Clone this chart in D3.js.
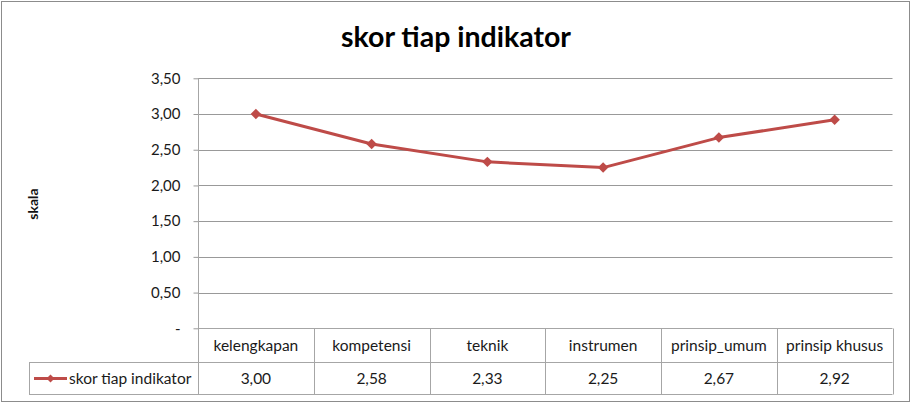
<!DOCTYPE html>
<html><head><meta charset="utf-8">
<script src="https://cdn.jsdelivr.net/npm/d3@7"></script>
<style>
html,body{margin:0;padding:0;background:#fff;}
svg{display:block;font-family:Lato, "Open Sans", sans-serif;}
</style></head>
<body>
<svg id="chart" width="916" height="404"></svg>
<script>
const categories = ["kelengkapan","kompetensi","teknik","instrumen","prinsip_umum","prinsip khusus"];
const values = [3.00, 2.58, 2.33, 2.25, 2.67, 2.92];
const yTicks = [0, 0.5, 1.0, 1.5, 2.0, 2.5, 3.0, 3.5];
const seriesName = "skor tiap indikator";
const title = "skor tiap indikator";
const yLabel = "skala";

(function(){
const svg = d3.select("#chart");
const pLeft = 198, pRight = 892.5, pTop = 78.3, pBottom = 328.3;
const rowH1 = 34, rowH2 = 32;
const legendLeft = 29;
const red = "#be4b48", grid = "#999", tableCol = "#a6a6a6";
const txt = "#1a1a1a";
const fmt = v => v === 0 ? "-" : d3.format(".2f")(v).replace(".", ",");

svg.append("rect").attr("x",1.5).attr("y",1.5).attr("width",908).attr("height",400)
  .attr("fill","#fff").attr("stroke","#8c8c8c").attr("stroke-width",1);

const x = d3.scaleBand().domain(categories).range([pLeft,pRight]).padding(0);
const y = d3.scaleLinear().domain([0,3.5]).range([pBottom,pTop]);

svg.append("g").selectAll("line").data(yTicks.filter(d=>d>0)).join("line")
  .attr("x1",pLeft).attr("x2",pRight).attr("y1",d=>Math.round(y(d))+0.5).attr("y2",d=>Math.round(y(d))+0.5)
  .attr("stroke",grid).attr("stroke-width",1);

const yAxis = d3.axisLeft(y).tickValues(yTicks).tickFormat(fmt).tickSize(5).tickPadding(13);
const gy = svg.append("g").attr("transform",`translate(${pLeft+0.5},0)`).call(yAxis);
gy.select(".domain").remove();
gy.selectAll(".tick line").attr("stroke",grid);
gy.selectAll(".tick text").attr("font-size",15).attr("fill",txt).attr("font-family","Lato, sans-serif");
svg.append("line").attr("x1",pLeft+0.5).attr("x2",pLeft+0.5).attr("y1",pTop).attr("y2",pBottom+rowH1+rowH2)
  .attr("stroke",tableCol);

const tb = svg.append("g");
const yTop = Math.round(pBottom)+0.5, yMid = yTop+rowH1, yBot = yMid+rowH2;
tb.append("line").attr("x1",pLeft).attr("x2",pRight).attr("y1",yTop).attr("y2",yTop).attr("stroke",tableCol);
tb.append("line").attr("x1",legendLeft).attr("x2",pRight).attr("y1",yMid).attr("y2",yMid).attr("stroke",tableCol);
tb.append("line").attr("x1",legendLeft).attr("x2",pRight).attr("y1",yBot).attr("y2",yBot).attr("stroke",tableCol);
tb.append("line").attr("x1",legendLeft+0.5).attr("x2",legendLeft+0.5).attr("y1",yMid).attr("y2",yBot).attr("stroke",tableCol);
tb.selectAll("line.div").data(categories).join("line").attr("class","div")
  .attr("x1",d=>Math.round(x(d)+x.bandwidth())+0.5).attr("x2",d=>Math.round(x(d)+x.bandwidth())+0.5)
  .attr("y1",yTop).attr("y2",yBot).attr("stroke",tableCol);
tb.selectAll("text.cat").data(categories).join("text").attr("class","cat")
  .attr("x",d=>x(d)+x.bandwidth()/2).attr("y",yTop+rowH1/2+5)
  .attr("text-anchor","middle").attr("font-size",15.5).attr("fill",txt).text(d=>d);
tb.selectAll("text.val").data(values).join("text").attr("class","val")
  .attr("x",(d,i)=>x(categories[i])+x.bandwidth()/2).attr("y",yMid+rowH2/2+5)
  .attr("text-anchor","middle").attr("font-size",15.5).attr("fill",txt).text(d=>fmt(d));

const ly = yMid+rowH2/2;
tb.append("line").attr("x1",34).attr("x2",67).attr("y1",ly).attr("y2",ly).attr("stroke",red).attr("stroke-width",3);
tb.append("path").attr("d",d3.symbol(d3.symbolDiamond2,40)()).attr("transform",`translate(50.5,${ly})`).attr("fill",red);
tb.append("text").attr("x",69).attr("y",ly+5).attr("font-size",15.5).attr("fill",txt).text(seriesName);

const line = d3.line().x((d,i)=>x(categories[i])+x.bandwidth()/2).y(d=>y(d));
svg.append("path").datum(values).attr("d",line).attr("fill","none").attr("stroke",red).attr("stroke-width",3)
  .attr("stroke-linejoin","round");
svg.append("g").selectAll("path").data(values).join("path")
  .attr("d",d3.symbol(d3.symbolDiamond2,70)())
  .attr("transform",(d,i)=>`translate(${x(categories[i])+x.bandwidth()/2},${y(d)})`).attr("fill",red);

svg.append("text").attr("x",456).attr("y",47).attr("text-anchor","middle")
  .attr("font-size",28.5).attr("font-weight","bold").attr("fill","#000").text(title);
svg.append("text").attr("transform","translate(38,204) rotate(-90)").attr("text-anchor","middle")
  .attr("font-size",14).attr("font-weight","bold").attr("fill","#111").text(yLabel);
})();
</script>
</body></html>
